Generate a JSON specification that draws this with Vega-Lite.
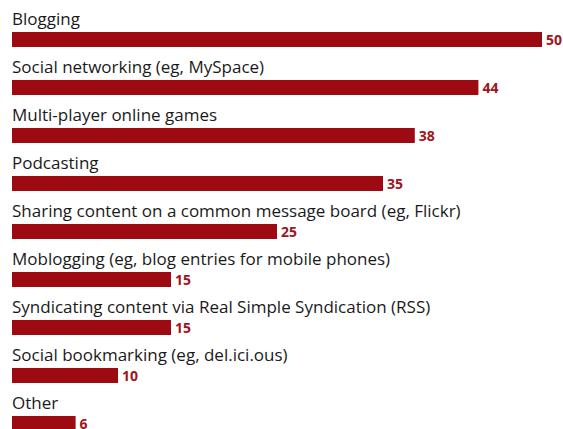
{
  "$schema": "https://vega.github.io/schema/vega-lite/v6.json",
  "width": 530,
  "height": 463,
  "autosize": "none",
  "padding": {"left": 12, "top": 0, "right": 21, "bottom": 0},
  "background": "white",
  "config": {"view": {"stroke": null}},
  "data": {"values": [
    {"activity": "Blogging", "pct": 50},
    {"activity": "Social networking (eg, MySpace)", "pct": 44},
    {"activity": "Multi-player online games", "pct": 38},
    {"activity": "Podcasting", "pct": 35},
    {"activity": "Sharing content on a common message board (eg, Flickr)", "pct": 25},
    {"activity": "Moblogging (eg, blog entries for mobile phones)", "pct": 15},
    {"activity": "Syndicating content via Real Simple Syndication (RSS)", "pct": 15},
    {"activity": "Social bookmarking (eg, del.ici.ous)", "pct": 10},
    {"activity": "Other", "pct": 6}
  ]},
  "encoding": {
    "y": {"field": "activity", "type": "nominal", "sort": null,
          "scale": {"paddingInner": 0.6875, "paddingOuter": 0.6667, "align": 0.5},
          "axis": null}
  },
  "layer": [
    {
      "mark": {"type": "bar", "color": "#9d0a12"},
      "encoding": {
        "x": {"field": "pct", "type": "quantitative",
              "scale": {"domain": [0, 50], "nice": false, "zero": true},
              "axis": null}
      }
    },
    {
      "mark": {"type": "text", "align": "left", "baseline": "alphabetic", "dy": -14.5,
               "font": "Open Sans", "fontSize": 17, "color": "#1a1a1a"},
      "encoding": {
        "x": {"datum": 0, "type": "quantitative"},
        "text": {"field": "activity"}
      }
    },
    {
      "mark": {"type": "text", "align": "left", "baseline": "alphabetic", "dx": 4, "dy": 5.5,
               "font": "Open Sans", "fontSize": 14, "fontWeight": "bold", "color": "#a0141c"},
      "encoding": {
        "x": {"field": "pct", "type": "quantitative"},
        "text": {"field": "pct"}
      }
    }
  ]
}
